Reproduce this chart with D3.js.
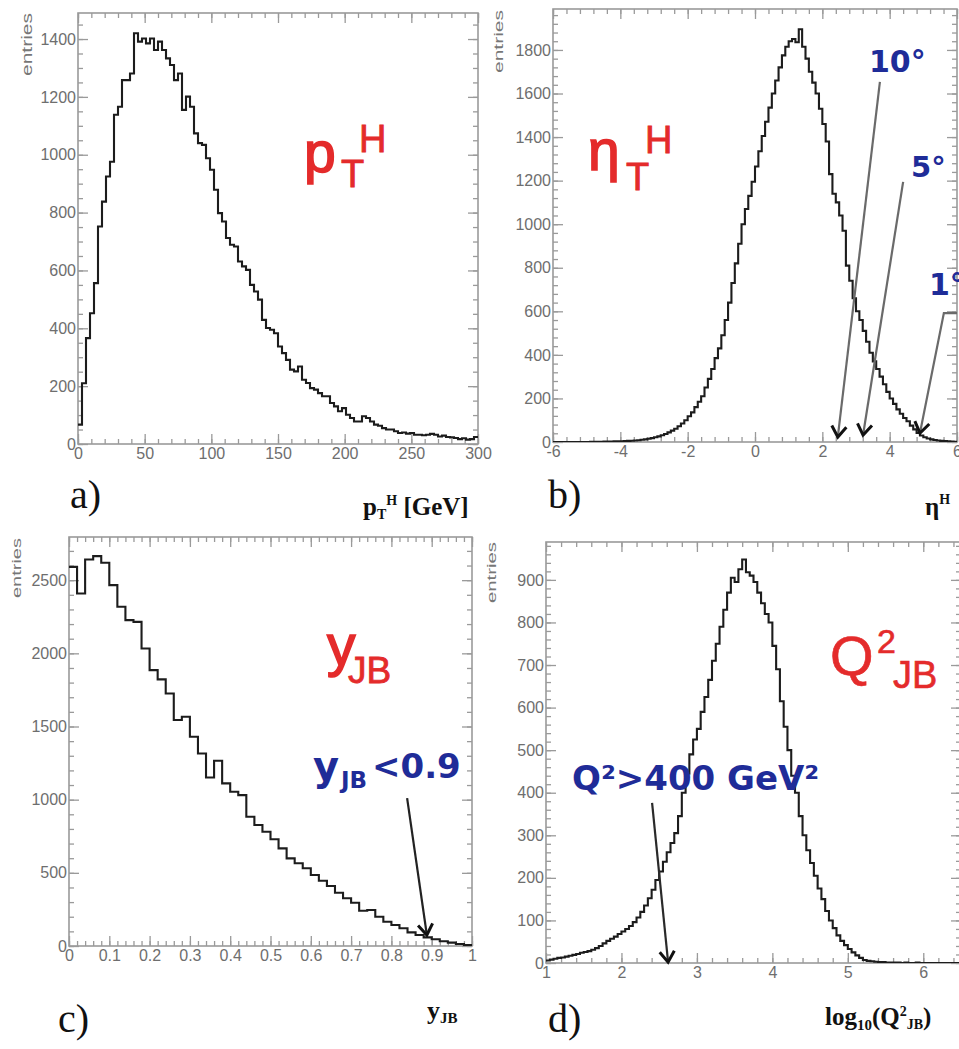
<!DOCTYPE html>
<html>
<head>
<meta charset="utf-8">
<script src="https://cdn.jsdelivr.net/npm/d3@7"></script>
<style>
  body { margin: 0; background: #fff; }
  svg { display: block; }
</style>
</head>
<body>
<svg id="fig" width="959" height="1049"></svg>
<script>
// ---------------- data ----------------
// a) transverse momentum of the hadronic system, 3 GeV bins, 0-300 GeV
const ptBinStart = 0, ptBinWidth = 3;
const ptCounts = [
  67, 210, 366, 452, 556, 752, 838, 925, 976, 1138,
  1166, 1258, 1258, 1281, 1420, 1391, 1402, 1385, 1402, 1362,
  1391, 1362, 1333, 1310, 1258, 1281, 1155, 1201, 1166, 1074,
  1040, 1034, 988, 948, 879, 798, 769, 712, 689, 683,
  631, 614, 602, 550, 527, 499, 429, 401, 395, 383,
  337, 314, 291, 257, 251, 268, 222, 211, 193, 188,
  176, 165, 165, 142, 130, 113, 124, 101, 90, 78,
  78, 96, 90, 78, 67, 63, 55, 50, 50, 44,
  38, 40, 36, 38, 32, 32, 30, 32, 35, 32,
  26, 29, 24, 23, 21, 17, 20, 15, 17, 24
];
const ptTicks = [0, 50, 100, 150, 200, 250, 300];
const ptCountTicks = [0, 200, 400, 600, 800, 1000, 1200, 1400];

// b) pseudorapidity of the hadronic system, 0.1 bins, -6..6
const etaBinStart = -6, etaBinWidth = 0.1;
const etaCounts = [
  0, 0, 0, 0, 0, 0, 0, 0, 0, 0,
  0, 1, 1, 1, 1, 2, 2, 2, 3, 3,
  3, 4, 5, 6, 7, 8, 10, 12, 15, 18,
  22, 26, 31, 37, 44, 52, 61, 72, 85, 100,
  118, 136, 160, 185, 210, 250, 290, 335, 385, 430,
  490, 560, 640, 730, 820, 910, 1000, 1070, 1130, 1195,
  1265, 1335, 1405, 1470, 1535, 1600, 1660, 1720, 1775, 1815,
  1840, 1850, 1835, 1895, 1815, 1760, 1700, 1650, 1600, 1530,
  1460, 1380, 1230, 1140, 1100, 1040, 970, 810, 740, 660,
  600, 560, 510, 460, 410, 370, 335, 300, 265, 230,
  200, 175, 150, 130, 110, 95, 75, 58, 42, 30,
  22, 16, 12, 9, 7, 5, 4, 3, 2, 1
];
const etaTicks = [-6, -4, -2, 0, 2, 4, 6];
const etaCountTicks = [0, 200, 400, 600, 800, 1000, 1200, 1400, 1600, 1800];

// c) inelasticity (Jacquet-Blondel), 0.02 bins, 0..1
const yjbBinStart = 0, yjbBinWidth = 0.02;
const yjbCounts = [
  2591, 2409, 2641, 2664, 2619, 2466, 2318, 2227, 2215, 2033,
  1885, 1822, 1726, 1544, 1567, 1430, 1316, 1152, 1266, 1111,
  1054, 1031, 883, 827, 781, 729, 667, 599, 565, 531,
  485, 446, 410, 364, 326, 296, 241, 246, 200, 166,
  143, 121, 93, 75, 59, 46, 32, 23, 14, 7
];
const yjbTicks = [0, 0.1, 0.2, 0.3, 0.4, 0.5, 0.6, 0.7, 0.8, 0.9, 1];
const yjbCountTicks = [0, 500, 1000, 1500, 2000, 2500];

// d) log10 of Q^2 (Jacquet-Blondel), 0.05 bins, 1..6.5
const q2BinStart = 1, q2BinWidth = 0.05;
const q2Counts = [
  6, 8, 10, 12, 13, 15, 17, 19, 21, 24,
  26, 28, 31, 35, 40, 46, 52, 57, 62, 68,
  74, 80, 87, 96, 107, 120, 135, 152, 172, 195,
  215, 238, 260, 282, 305, 345, 400, 445, 490, 525,
  550, 590, 625, 665, 710, 750, 790, 830, 870, 905,
  895, 925, 948, 918, 910, 895, 870, 845, 820, 800,
  745, 690, 615, 555, 500, 440, 400, 345, 300, 265,
  235, 205, 175, 150, 122, 100, 82, 65, 52, 42,
  33, 25, 18, 12, 7, 5, 4, 3, 2, 2,
  1, 1, 1, 1, 0, 1, 0, 0, 1, 0,
  0, 0, 0, 0, 0, 0, 0, 0, 0, 0
];
const q2Ticks = [1, 2, 3, 4, 5, 6];
const q2CountTicks = [0, 100, 200, 300, 400, 500, 600, 700, 800, 900];

// cut arrows, in data coordinates of their panel
const etaArrows = [
  { pts: [[3.71, 1653], [2.46, 23]] },           // 10 degrees
  { pts: [[4.40, 1194], [3.21, 32]] },           // 5 degrees
  { pts: [[6.0, 592], [5.61, 592], [4.90, 41]] } // 1 degree
];
const yjbArrows = [{ pts: [[0.839, 1011], [0.888, 75]] }];
const q2Arrows = [{ pts: [[2.406, 376], [2.618, 2]] }];

// ---------------- drawing ----------------
const svg = d3.select('#fig');
const TICK_FONT = '"Liberation Sans Narrow", "Arial Narrow", "Liberation Sans", sans-serif';
const AXIS_GREY = '#9a9a9a';
const LABEL_GREY = '#6e6e6e';

const panels = [
  { counts: ptCounts, start: ptBinStart, width: ptBinWidth,
    xDomain: [0, 300], yDomain: [0, 1490],
    box: { left: 78, right: 478, top: 13, bottom: 444 },
    xTicks: ptTicks, xMinor: 10, yTicks: ptCountTicks, yMinor: 50,
    entries: { x: 32, top: 13, len: 63, size: 14 }, arrows: [] },
  { counts: etaCounts, start: etaBinStart, width: etaBinWidth,
    xDomain: [-6, 6], yDomain: [0, 1988],
    box: { left: 553, right: 957, top: 9, bottom: 442 },
    xTicks: etaTicks, xMinor: 0.4, yTicks: etaCountTicks, yMinor: 40,
    entries: { x: 503, top: 10, len: 63, size: 13 }, arrows: etaArrows, arrowColor: '#6a6a6a' },
  { counts: yjbCounts, start: yjbBinStart, width: yjbBinWidth,
    xDomain: [0, 1], yDomain: [0, 2795],
    box: { left: 69, right: 472, top: 537, bottom: 946 },
    xTicks: yjbTicks, xMinor: 0.02, yTicks: yjbCountTicks, yMinor: 100,
    entries: { x: 21, top: 538, len: 60, size: 12 }, arrows: yjbArrows, arrowColor: '#222' },
  { counts: q2Counts, start: q2BinStart, width: q2BinWidth,
    xDomain: [1, 6.5], yDomain: [0, 989],
    box: { left: 546, right: 961, top: 542, bottom: 963 },
    xTicks: q2Ticks, xMinor: 0.2, yTicks: q2CountTicks, yMinor: 20,
    entries: { x: 496, top: 542, len: 61, size: 12 }, arrows: q2Arrows, arrowColor: '#2a2a2a' }
];

function stepValues(domain, step) {
  const n = Math.round((domain[1] - domain[0]) / step);
  return d3.range(n + 1).map(i => +(domain[0] + i * step).toFixed(6));
}

function styleAxis(g, showLabels) {
  g.select('.domain').remove();
  g.selectAll('.tick line').attr('stroke', AXIS_GREY).attr('stroke-width', 1.3);
  g.selectAll('.tick text')
    .attr('fill', LABEL_GREY)
    .style('font-family', TICK_FONT)
    .style('font-size', '16px');
  if (!showLabels) g.selectAll('.tick text').remove();
}

const fmt = d => String(+d.toFixed(2));

function drawArrowHead(g, from, to, color) {
  const ang = Math.atan2(to[1] - from[1], to[0] - from[0]);
  const len = 13, spread = 0.6;
  const a1 = [to[0] - len * Math.cos(ang - spread), to[1] - len * Math.sin(ang - spread)];
  const a2 = [to[0] - len * Math.cos(ang + spread), to[1] - len * Math.sin(ang + spread)];
  g.append('path')
    .attr('d', d3.line()([a1, to, a2]))
    .attr('fill', 'none').attr('stroke', color)
    .attr('stroke-width', 3).attr('stroke-linejoin', 'miter');
}

panels.forEach((p, idx) => {
  const b = p.box;
  const x = d3.scaleLinear().domain(p.xDomain).range([b.left, b.right]);
  const y = d3.scaleLinear().domain(p.yDomain).range([b.bottom, b.top]);
  const g = svg.append('g');

  const clipId = 'clip' + idx;
  g.append('clipPath').attr('id', clipId).append('rect')
    .attr('x', b.left).attr('y', b.top)
    .attr('width', b.right - b.left).attr('height', b.bottom - b.top);

  const xMinor = stepValues(p.xDomain, p.xMinor);
  const yMinor = stepValues([p.yDomain[0], Math.floor(p.yDomain[1] / p.yMinor) * p.yMinor], p.yMinor);

  // bottom axis (ticks point into the frame)
  g.append('g').attr('transform', `translate(0,${b.bottom})`)
    .call(d3.axisBottom(x).tickValues(xMinor).tickSize(-5).tickFormat(''))
    .call(a => styleAxis(a, false));
  g.append('g').attr('transform', `translate(0,${b.bottom})`)
    .call(d3.axisBottom(x).tickValues(p.xTicks).tickSize(-10).tickPadding(4).tickFormat(fmt))
    .call(a => styleAxis(a, true));
  // top axis
  g.append('g').attr('transform', `translate(0,${b.top})`)
    .call(d3.axisTop(x).tickValues(xMinor).tickSize(-5).tickFormat(''))
    .call(a => styleAxis(a, false));
  g.append('g').attr('transform', `translate(0,${b.top})`)
    .call(d3.axisTop(x).tickValues(p.xTicks).tickSize(-10).tickFormat(''))
    .call(a => styleAxis(a, false));
  // left axis
  g.append('g').attr('transform', `translate(${b.left},0)`)
    .call(d3.axisLeft(y).tickValues(yMinor).tickSize(-5).tickFormat(''))
    .call(a => styleAxis(a, false));
  g.append('g').attr('transform', `translate(${b.left},0)`)
    .call(d3.axisLeft(y).tickValues(p.yTicks).tickSize(-10).tickPadding(2).tickFormat(fmt))
    .call(a => styleAxis(a, true));
  // right axis
  g.append('g').attr('transform', `translate(${b.right},0)`)
    .call(d3.axisRight(y).tickValues(yMinor).tickSize(-5).tickFormat(''))
    .call(a => styleAxis(a, false));
  g.append('g').attr('transform', `translate(${b.right},0)`)
    .call(d3.axisRight(y).tickValues(p.yTicks).tickSize(-10).tickFormat(''))
    .call(a => styleAxis(a, false));

  // frame
  g.append('rect')
    .attr('x', b.left).attr('y', b.top)
    .attr('width', b.right - b.left).attr('height', b.bottom - b.top)
    .attr('fill', 'none').attr('stroke', AXIS_GREY).attr('stroke-width', 1.6);

  // histogram outline
  const pts = p.counts.map((c, i) => [p.start + i * p.width, c]);
  pts.push([p.start + p.counts.length * p.width, p.counts[p.counts.length - 1]]);
  g.append('path')
    .attr('clip-path', `url(#${clipId})`)
    .attr('d', d3.line().x(d => x(d[0])).y(d => y(d[1])).curve(d3.curveStepAfter)(pts))
    .attr('fill', 'none').attr('stroke', '#1c1c1c').attr('stroke-width', 2.1);

  // "entries" axis title
  g.append('text')
    .attr('transform', `translate(${p.entries.x},${p.entries.top}) rotate(-90)`)
    .attr('text-anchor', 'end')
    .attr('textLength', p.entries.len).attr('lengthAdjust', 'spacingAndGlyphs')
    .attr('fill', '#777')
    .style('font-family', TICK_FONT)
    .style('font-size', p.entries.size + 'px')
    .text('entries');

  // cut arrows
  p.arrows.forEach(ar => {
    const pix = ar.pts.map(d => [x(d[0]), y(d[1])]);
    g.append('path').attr('d', d3.line()(pix))
      .attr('fill', 'none').attr('stroke', p.arrowColor).attr('stroke-width', 2.2);
    drawArrowHead(g, pix[pix.length - 2], pix[pix.length - 1], '#111');
  });
});

// ---------------- text ----------------
const RED = '#e42b2b';
const BLUE = '#1f2c98';
const SANS = '"Liberation Sans", Arial, sans-serif';
const BOLDSANS = '"DejaVu Sans", Verdana, sans-serif';
const SERIF = '"Liberation Serif", "Times New Roman", serif';

function put(txt, xPos, yPos, size, opts = {}) {
  const t = svg.append('text')
    .attr('x', xPos).attr('y', yPos)
    .attr('fill', opts.color || '#111')
    .attr('text-anchor', opts.anchor || 'start')
    .style('font-family', opts.family || SANS)
    .style('font-size', size + 'px')
    .style('font-weight', opts.weight || 'normal')
    .text(txt);
  if (opts.stroke) {
    t.attr('stroke', opts.color).attr('stroke-width', opts.stroke).attr('paint-order', 'stroke');
  }
  return t;
}

// red variable names
put('p', 304, 172, 57, { color: RED, stroke: 1.6 });
put('T', 341, 187, 38, { color: RED, stroke: 0.8 });
put('H', 359, 152, 38, { color: RED, stroke: 0.8 });

put('η', 588, 170, 57, { color: RED, stroke: 1.6 });
put('T', 626, 190, 38, { color: RED, stroke: 0.8 });
put('H', 645, 153, 38, { color: RED, stroke: 0.8 });

put('y', 327, 665, 57, { color: RED, stroke: 1.6 });
put('JB', 348, 683, 37, { color: RED, stroke: 0.8 });

put('Q', 830, 675, 56, { color: RED, stroke: 0.6 });
put('2', 877, 653, 34, { color: RED, stroke: 0.6 });
put('JB', 893, 688, 38, { color: RED, stroke: 0.6 });

// blue cut labels
put('10°', 869, 72, 30, { color: BLUE, family: BOLDSANS, weight: 'bold' });
put('5°', 911, 177, 29, { color: BLUE, family: BOLDSANS, weight: 'bold' });
put('1°', 929, 295, 30, { color: BLUE, family: BOLDSANS, weight: 'bold' });

put('y', 313, 780, 40, { color: BLUE, family: BOLDSANS, weight: 'bold' });
put('JB', 341, 788, 23, { color: BLUE, family: BOLDSANS, weight: 'bold' });
put('<0.9', 372, 778, 34, { color: BLUE, family: BOLDSANS, weight: 'bold' });

put('Q²>400 GeV²', 572, 790, 34, { color: BLUE, family: BOLDSANS, weight: 'bold' });

// panel letters
put('a)', 70, 508, 40, { family: SERIF });
put('b)', 548, 508, 40, { family: SERIF });
put('c)', 58, 1032, 40, { family: SERIF });
put('d)', 548, 1032, 40, { family: SERIF });

// axis titles
function axisTitle(xPos, yPos, parts) {
  const t = svg.append('text').attr('x', xPos).attr('y', yPos)
    .attr('fill', '#111')
    .style('font-family', SERIF).style('font-weight', 'bold');
  parts.forEach(pt => {
    t.append('tspan')
      .attr('dy', pt.dy || 0)
      .style('font-size', (pt.size || 25) + 'px')
      .text(pt.t);
  });
  return t;
}
axisTitle(363, 515, [
  { t: 'p' }, { t: 'T', size: 14, dy: 4 }, { t: 'H', size: 14, dy: -14 }, { t: ' [GeV]', dy: 10 }
]);
axisTitle(925, 515, [{ t: 'η' }, { t: 'H', size: 14, dy: -11 }]);
axisTitle(427, 1019, [{ t: 'y', size: 26 }, { t: 'JB', size: 15, dy: 4 }]);
axisTitle(825, 1025, [
  { t: 'log' }, { t: '10', size: 15, dy: 5 }, { t: '(Q', dy: -5 },
  { t: '2', size: 14, dy: -9 }, { t: 'JB', size: 14, dy: 13 }, { t: ')', dy: -4 }
]);
</script>
</body>
</html>
